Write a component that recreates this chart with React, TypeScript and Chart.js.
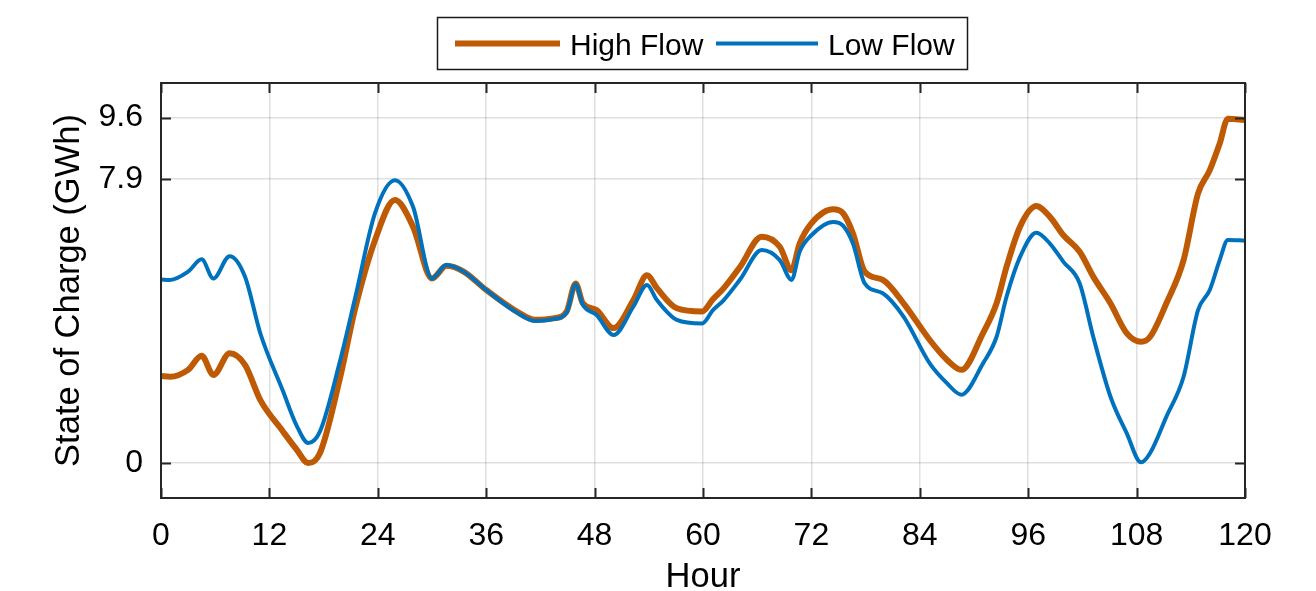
import React, { useEffect, useRef } from "react";
import { Chart, registerables } from "chart.js";

Chart.register(...registerables);

const hours = [
  0, 1, 3, 4.5, 5.8, 7.6, 9.3, 11, 13.5, 15, 16.3, 17.6, 19.8, 21.5, 23.7, 25.9, 27.9, 30, 31.6,
  33.5, 36, 39.4, 41.4, 43.4, 44.9, 45.9, 46.7, 48.2, 50.1, 52.3, 53.8, 54.9, 57.1, 59.9, 61.1,
  62.3, 64.1, 66.5, 68.5, 69.8, 70.7, 72, 74.4, 75.5, 76.6, 77.9, 79.9, 82.2, 85.1, 87, 88.6, 91,
  92.5, 93.6, 95.1, 96.9, 98.4, 99.9, 101.7, 103.2, 105.1, 106.9, 108.5, 109.5, 111.3, 113.2,
  114.8, 116.1, 117.2, 118.1, 120,
];

const highFlow = [
  2.42, 2.4, 2.59, 2.98, 2.45, 3.05, 2.73, 1.75, 0.88, 0.38, 0.0, 0.28, 2.35, 4.3, 6.2, 7.31, 6.57,
  5.13, 5.48, 5.32, 4.81, 4.21, 3.98, 4.02, 4.21, 4.99, 4.44, 4.25, 3.75, 4.53, 5.22, 4.86, 4.3,
  4.21, 4.55, 4.86, 5.45, 6.29, 6.01, 5.36, 6.1, 6.66, 7.05, 6.94, 6.38, 5.32, 5.09, 4.44, 3.42,
  2.87, 2.59, 3.61, 4.44, 5.45, 6.57, 7.14, 6.84, 6.33, 5.87, 5.18, 4.44, 3.61, 3.37, 3.51, 4.44,
  5.64, 7.49, 8.14, 8.88, 9.57, 9.53,
];

const lowFlow = [
  5.1, 5.09, 5.32, 5.66, 5.13, 5.75, 5.18, 3.6, 2.0, 1.05, 0.56, 0.88, 2.82, 4.6, 6.95, 7.86, 7.12,
  5.13, 5.5, 5.32, 4.81, 4.18, 3.95, 4.0, 4.18, 4.97, 4.4, 4.12, 3.56, 4.35, 4.95, 4.53, 3.98,
  3.88, 4.25, 4.53, 5.1, 5.92, 5.64, 5.09, 5.87, 6.33, 6.7, 6.6, 6.1, 4.99, 4.72, 4.07, 2.77,
  2.22, 1.9, 2.77, 3.51, 4.62, 5.73, 6.4, 6.1, 5.59, 4.99, 3.51, 1.85, 0.83, 0.02, 0.28, 1.29,
  2.4, 4.25, 4.81, 5.64, 6.2, 6.18,
];

const seriesNames = ["High Flow", "Low Flow"];
const seriesColors = ["#BF5A04", "#0072BD"];
const xTicks = [0, 12, 24, 36, 48, 60, 72, 84, 96, 108, 120];
const yTicks = [0, 7.9, 9.6];
const yTickLabels = ["0", "7.9", "9.6"];
const xTitle = "Hour";
const yTitle = "State of Charge (GWh)";

const FONT = "'Liberation Sans', Arial, Helvetica, sans-serif";
const AXIS_COLOR = "#262626";

const boxPlugin = {
  id: "boxTicks",
  afterDatasetsDraw(chart: any) {
    const { ctx, chartArea: a, scales } = chart;
    const x = scales.x;
    const y = scales.y;
    ctx.save();
    ctx.strokeStyle = AXIS_COLOR;
    ctx.lineWidth = 2;
    ctx.strokeRect(a.left, a.top, a.right - a.left, a.bottom - a.top);
    const L = 10;
    ctx.beginPath();
    for (const t of xTicks) {
      const px = Math.round(x.getPixelForValue(t)) + 0.5;
      ctx.moveTo(px, a.bottom);
      ctx.lineTo(px, a.bottom - L);
      ctx.moveTo(px, a.top);
      ctx.lineTo(px, a.top + L);
    }
    for (const t of yTicks) {
      const py = Math.round(y.getPixelForValue(t)) + 0.5;
      ctx.moveTo(a.left, py);
      ctx.lineTo(a.left + L, py);
      ctx.moveTo(a.right, py);
      ctx.lineTo(a.right - L, py);
    }
    ctx.stroke();
    ctx.restore();
  },
};

const legendPlugin = {
  id: "matLegend",
  afterDraw(chart: any) {
    const { ctx } = chart;
    ctx.save();
    ctx.fillStyle = "#ffffff";
    ctx.fillRect(437, 17, 531, 53);
    ctx.strokeStyle = "#1a1a1a";
    ctx.lineWidth = 1.5;
    ctx.strokeRect(437.5, 17.5, 530, 52);
    const items = [
      { x0: 455, x1: 560, tx: 570, w: 6 },
      { x0: 716, x1: 818, tx: 828, w: 4 },
    ];
    ctx.font = `30px ${FONT}`;
    ctx.textBaseline = "alphabetic";
    ctx.textAlign = "left";
    items.forEach((it, i) => {
      ctx.strokeStyle = seriesColors[i];
      ctx.lineWidth = it.w;
      ctx.beginPath();
      ctx.moveTo(it.x0, 43.5);
      ctx.lineTo(it.x1, 43.5);
      ctx.stroke();
      ctx.fillStyle = "#000000";
      ctx.fillText(seriesNames[i], it.tx, 55);
    });
    ctx.restore();
  },
};

export default function App() {
  const canvasRef = useRef<HTMLCanvasElement | null>(null);

  useEffect(() => {
    const canvas = canvasRef.current;
    if (!canvas) return;
    const highData = hours.map((h, i) => ({ x: h, y: highFlow[i] }));
    const lowData = hours.map((h, i) => ({ x: h, y: lowFlow[i] }));

    const chart = new Chart(canvas, {
      type: "line",
      data: {
        datasets: [
          {
            label: seriesNames[0],
            data: highData,
            borderColor: seriesColors[0],
            backgroundColor: seriesColors[0],
            borderWidth: 6,
            pointRadius: 0,
            cubicInterpolationMode: "monotone",
            order: 1,
          },
          {
            label: seriesNames[1],
            data: lowData,
            borderColor: seriesColors[1],
            backgroundColor: seriesColors[1],
            borderWidth: 4,
            pointRadius: 0,
            cubicInterpolationMode: "monotone",
            order: 0,
          },
        ],
      },
      options: {
        responsive: false,
        animation: false,
        events: [],
        layout: { padding: { left: 0, right: 71, top: 83, bottom: 0 } },
        plugins: {
          legend: { display: false },
          tooltip: { enabled: false },
        },
        scales: {
          x: {
            type: "linear",
            min: 0,
            max: 120,
            afterBuildTicks: (scale: any) => {
              scale.ticks = xTicks.map((v) => ({ value: v }));
            },
            afterFit: (scale: any) => {
              scale.height = 93;
            },
            ticks: {
              padding: 19,
              color: "#000000",
              font: { family: FONT, size: 32 },
              maxRotation: 0,
              callback: (v: any) => String(v),
            },
            grid: {
              drawTicks: false,
              color: "rgba(38,38,38,0.15)",
              lineWidth: 1.5,
            },
            border: { display: false },
            title: {
              display: true,
              text: xTitle,
              color: "#000000",
              font: { family: FONT, size: 34.5, lineHeight: 0.8 },
              padding: { top: 0, bottom: 0 },
            },
          },
          y: {
            type: "linear",
            min: -0.97,
            max: 10.56,
            afterBuildTicks: (scale: any) => {
              scale.ticks = yTicks.map((v) => ({ value: v }));
            },
            afterFit: (scale: any) => {
              scale.width = 161;
            },
            ticks: {
              padding: 18,
              color: "#000000",
              font: { family: FONT, size: 32 },
              callback: (v: any) => {
                const idx = yTicks.indexOf(v);
                return idx >= 0 ? yTickLabels[idx] : "";
              },
            },
            grid: {
              drawTicks: false,
              color: "rgba(38,38,38,0.15)",
              lineWidth: 1.5,
            },
            border: { display: false },
            title: {
              display: true,
              text: yTitle,
              color: "#000000",
              font: { family: FONT, size: 34.5, lineHeight: 0.8 },
              padding: { top: 56, bottom: 0 },
            },
          },
        },
      },
      plugins: [boxPlugin, legendPlugin],
    });

    return () => {
      chart.destroy();
    };
  }, []);

  return (
    <div style={{ position: "absolute", left: 0, top: 0, width: 1316, height: 591 }}>
      <canvas ref={canvasRef} width={1316} height={591} style={{ display: "block" }} />
    </div>
  );
}
